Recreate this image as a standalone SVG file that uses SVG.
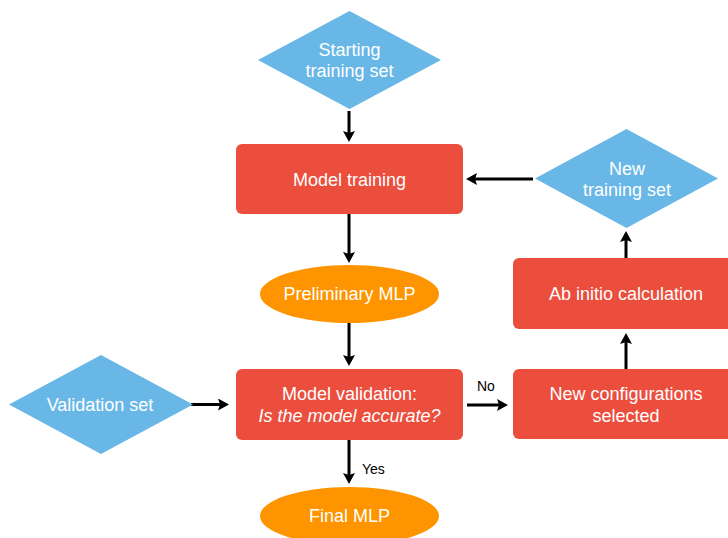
<svg xmlns="http://www.w3.org/2000/svg" width="728" height="538" viewBox="0 0 728 538">
<style>
.dia{fill:#69B7E7}
.box{fill:#EC4E3E}
.ell{fill:#FE9500}
.t{font-family:"Liberation Sans",Arial,Helvetica,sans-serif;font-size:18px;fill:#fff;text-anchor:middle}
.it{font-style:italic}
.lbl{font-family:"Liberation Sans",Arial,Helvetica,sans-serif;font-size:14px;fill:#000}
.c{stroke:#000;stroke-width:3;fill:none;marker-end:url(#ah)}
</style>
<defs>
<marker id="ah" markerUnits="userSpaceOnUse" markerWidth="12" markerHeight="12" refX="2" refY="6" orient="auto">
<path d="M0,0 L11,6 L0,12 L2,6 z" fill="#000"/>
</marker>
</defs>
<rect width="728" height="538" fill="#fff"/>
<g id="connectors">
<line class="c" x1="349" y1="111" x2="349" y2="133"/>
<line class="c" x1="349" y1="214" x2="349" y2="254"/>
<line class="c" x1="349" y1="323" x2="349" y2="357"/>
<line class="c" x1="191" y1="404.5" x2="220" y2="404.5"/>
<line class="c" x1="349" y1="440" x2="349" y2="475"/>
<line class="c" x1="467" y1="405" x2="499" y2="405"/>
<line class="c" x1="626" y1="369" x2="626" y2="342"/>
<line class="c" x1="626" y1="258" x2="626" y2="240"/>
<line class="c" x1="533" y1="179" x2="475" y2="179"/>
<text class="lbl" x="362" y="474">Yes</text>
<text class="lbl" x="477" y="391">No</text>
</g>
<g id="starting-set">
<polygon class="dia" points="349.5,11 441,60 349.5,109 258,60"/>
<text class="t" x="349.5" y="56">Starting</text>
<text class="t" x="349.5" y="77">training set</text>
</g>
<g id="model-training">
<rect class="box" x="236" y="144" width="227" height="70" rx="6"/>
<text class="t" x="349.5" y="186">Model training</text>
</g>
<g id="preliminary-mlp">
<ellipse class="ell" cx="349.5" cy="294" rx="89.5" ry="29"/>
<text class="t" x="349.5" y="300">Preliminary MLP</text>
</g>
<g id="validation-set">
<polygon class="dia" points="101,355 193,404.5 101,454 9,404.5"/>
<text class="t" x="100" y="411">Validation set</text>
</g>
<g id="model-validation">
<rect class="box" x="236" y="369" width="227" height="71" rx="6"/>
<text class="t" x="349.5" y="400">Model validation:</text>
<text class="t it" x="349.5" y="422">Is the model accurate?</text>
</g>
<g id="final-mlp">
<ellipse class="ell" cx="349.5" cy="516" rx="89.5" ry="29"/>
<text class="t" x="349.5" y="522">Final MLP</text>
</g>
<g id="new-configurations">
<rect class="box" x="513" y="369" width="226" height="70" rx="6"/>
<text class="t" x="626" y="400">New configurations</text>
<text class="t" x="626" y="422">selected</text>
</g>
<g id="ab-initio">
<rect class="box" x="513" y="258" width="226" height="71" rx="6"/>
<text class="t" x="626" y="300">Ab initio calculation</text>
</g>
<g id="new-training-set">
<polygon class="dia" points="626.5,129 718,178.5 626.5,228 535,178.5"/>
<text class="t" x="627" y="175">New</text>
<text class="t" x="627" y="196">training set</text>
</g>
</svg>
